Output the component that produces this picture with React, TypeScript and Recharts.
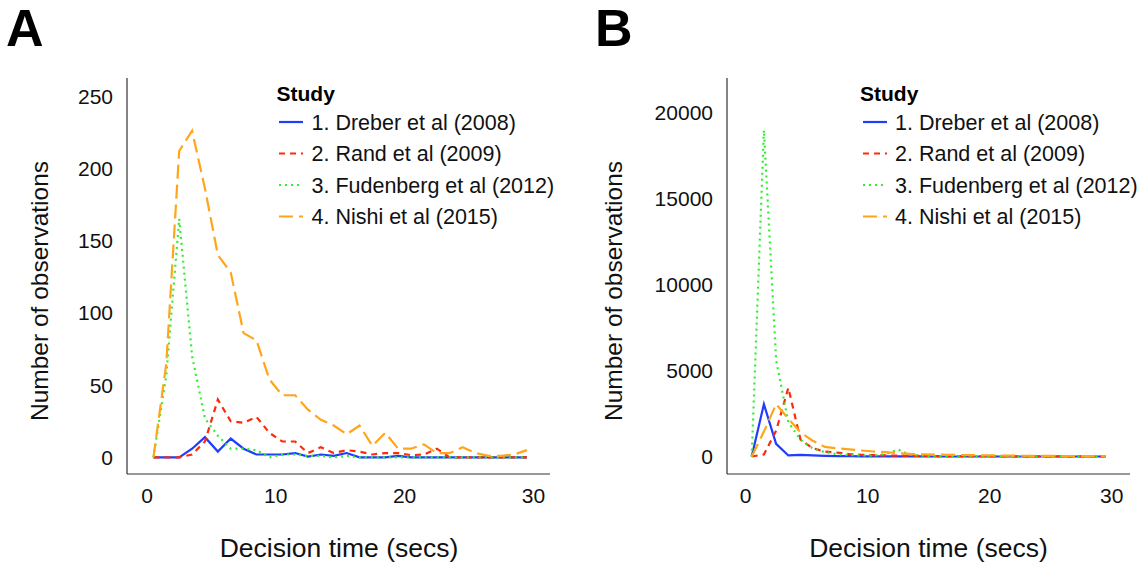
import React from "react";
import { LineChart, Line, XAxis, YAxis } from "recharts";

const timeBins = [0.5, 1.5, 2.5, 3.5, 4.5, 5.5, 6.5, 7.5, 8.5, 9.5, 10.5, 11.5, 12.5, 13.5, 14.5, 15.5, 16.5, 17.5, 18.5, 19.5, 20.5, 21.5, 22.5, 23.5, 24.5, 25.5, 26.5, 27.5, 28.5, 29.5];

// Panel A
const dreberA = [0, 0, 0, 6, 14, 4, 13, 6, 2, 2, 2, 3, 0.5, 2, 1, 3, 0, 0, 0, 1, 0, 0, 0, 0, 0, 0, 0, 0, 0, 0];
const randA = [0, 0, 0, 2, 11, 40, 25, 24, 28, 17, 11, 11, 3, 7, 3, 5, 4, 2, 3, 3, 1.5, 2, 6, 0, 0, 0, 0, 0, 0, 0];
const fudenbergA = [0, 57, 165, 70, 27, 15, 6, 6, 5, 0, 2, 2, 1, 1, 0, 1, 0, 0, 0, 0, 0, 0, 0, 0, 0, 0, 0, 0, 0, 0];
const nishiA = [0, 65, 212, 226, 186, 140, 128, 86, 81, 54, 43, 43, 33, 26, 22, 16, 22, 8, 17, 6, 6, 9, 3, 3, 7, 3, 1, 1, 2, 5];

// Panel B
const dreberB = [0, 3050, 735, 60, 100, 70, 40, 20, 20, 10, 10, 10, 5, 5, 5, 0, 0, 0, 0, 0, 0, 0, 0, 0, 0, 0, 0, 0, 0, 0];
const randB = [0, 120, 1500, 4000, 980, 480, 290, 230, 140, 100, 80, 60, 50, 40, 30, 30, 20, 20, 15, 15, 10, 10, 10, 5, 5, 5, 5, 5, 5, 5];
const fudenbergB = [0, 19000, 5600, 2000, 970, 470, 250, 130, 80, 60, 50, 150, 400, 100, 50, 30, 20, 20, 10, 10, 10, 5, 5, 5, 5, 5, 5, 5, 5, 5];
const nishiB = [0, 1450, 3050, 2200, 1400, 920, 560, 480, 420, 350, 290, 250, 190, 150, 130, 110, 100, 90, 80, 70, 60, 50, 45, 40, 35, 30, 30, 25, 25, 20];

const ticksA = [0, 50, 100, 150, 200, 250];
const ticksB = [0, 5000, 10000, 15000, 20000];
const ticksX = [0, 10, 20, 30];

const studyLabels = [
  "1. Dreber et al (2008)",
  "2. Rand et al (2009)",
  "3. Fudenberg et al (2012)",
  "4. Nishi et al (2015)",
];
const keys = ["dreber", "rand", "fudenberg", "nishi"];
const colors = ["#1f3cff", "#ff2a0a", "#2ef02e", "#ffa51a"];
const dashes = ["", "6 5", "2 4", "14 6"];

const FONT = "'Liberation Sans', Arial, Helvetica, sans-serif";

function build(a: number[], b: number[], c: number[], d: number[]) {
  return timeBins.map((t, i) => ({ t, dreber: a[i], rand: b[i], fudenberg: c[i], nishi: d[i] }));
}

const dataA = build(dreberA, randA, fudenbergA, nishiA);
const dataB = build(dreberB, randB, fudenbergB, nishiB);

const tickStyle = { fontSize: 21, fill: "#111", fontFamily: FONT };

function Panel(props: {
  data: any[];
  left: number;
  marginLeft: number;
  marginRight: number;
  xDomain: [number, number];
  yDomain: [number, number];
  yTicks: number[];
}) {
  return (
    <div style={{ position: "absolute", left: props.left, top: 0 }}>
      <LineChart
        width={573}
        height={569}
        data={props.data}
        margin={{ top: 78, left: props.marginLeft, right: props.marginRight, bottom: 65 }}
      >
        <XAxis
          dataKey="t"
          type="number"
          domain={props.xDomain}
          ticks={ticksX}
          allowDataOverflow
          height={30}
          tickLine={false}
          tickSize={0}
          tickMargin={14}
          tick={tickStyle}
          stroke="#333"
          axisLine={{ stroke: "#333", strokeWidth: 1.2 }}
        />
        <YAxis
          type="number"
          domain={props.yDomain}
          ticks={props.yTicks}
          allowDataOverflow
          width={60}
          tickLine={false}
          tickSize={0}
          tickMargin={14}
          tick={tickStyle}
          axisLine={{ stroke: "#333", strokeWidth: 1.2 }}
        />
        {keys.map((k, i) => (
          <Line
            key={k}
            dataKey={k}
            type="linear"
            stroke={colors[i]}
            strokeWidth={2.2}
            strokeDasharray={dashes[i] || undefined}
            dot={false}
            isAnimationActive={false}
          />
        ))}
      </LineChart>
    </div>
  );
}

function LegendBlock(props: { titleX: number; lineX: number; textX: number }) {
  const rows = [122, 153.5, 185, 216.5];
  return (
    <g>
      <text x={props.titleX} y={100.5} fontSize={21} fontWeight="bold" fontFamily={FONT} fill="#000">
        Study
      </text>
      {studyLabels.map((s, i) => (
        <g key={s}>
          <line
            x1={props.lineX}
            x2={props.lineX + 24}
            y1={rows[i]}
            y2={rows[i]}
            stroke={colors[i]}
            strokeWidth={2.2}
            strokeDasharray={dashes[i] || undefined}
          />
          <text x={props.textX} y={rows[i] + 7.7} fontSize={21.5} fontFamily={FONT} fill="#111">
            {s}
          </text>
        </g>
      ))}
    </g>
  );
}

export default function App() {
  return (
    <div style={{ position: "absolute", left: 0, top: 0, width: 1146, height: 569, background: "#fff", overflow: "hidden" }}>
      <Panel data={dataA} left={0} marginLeft={67} marginRight={23} xDomain={[-1.553, 31.29]} yDomain={[-11.5, 262.5]} yTicks={ticksA} />
      <Panel data={dataB} left={573} marginLeft={94} marginRight={16} xDomain={[-1.525, 31.5]} yDomain={[-1019, 22038]} yTicks={ticksB} />
      <svg width={1146} height={569} style={{ position: "absolute", left: 0, top: 0, pointerEvents: "none" }}>
        <text x={6} y={46} fontSize={52} fontWeight="bold" fontFamily={FONT} fill="#000">A</text>
        <text x={595} y={46} fontSize={52} fontWeight="bold" fontFamily={FONT} fill="#000">B</text>
        <text x={339} y={557} fontSize={26.5} textAnchor="middle" fontFamily={FONT} fill="#111">Decision time (secs)</text>
        <text x={928.5} y={557} fontSize={26.5} textAnchor="middle" fontFamily={FONT} fill="#111">Decision time (secs)</text>
        <text transform="translate(48,291) rotate(-90)" fontSize={24.5} textAnchor="middle" fontFamily={FONT} fill="#111">Number of observations</text>
        <text transform="translate(622,291) rotate(-90)" fontSize={24.5} textAnchor="middle" fontFamily={FONT} fill="#111">Number of observations</text>
        <LegendBlock titleX={276.5} lineX={279} textX={311.5} />
        <LegendBlock titleX={860} lineX={863} textX={895} />
      </svg>
    </div>
  );
}
